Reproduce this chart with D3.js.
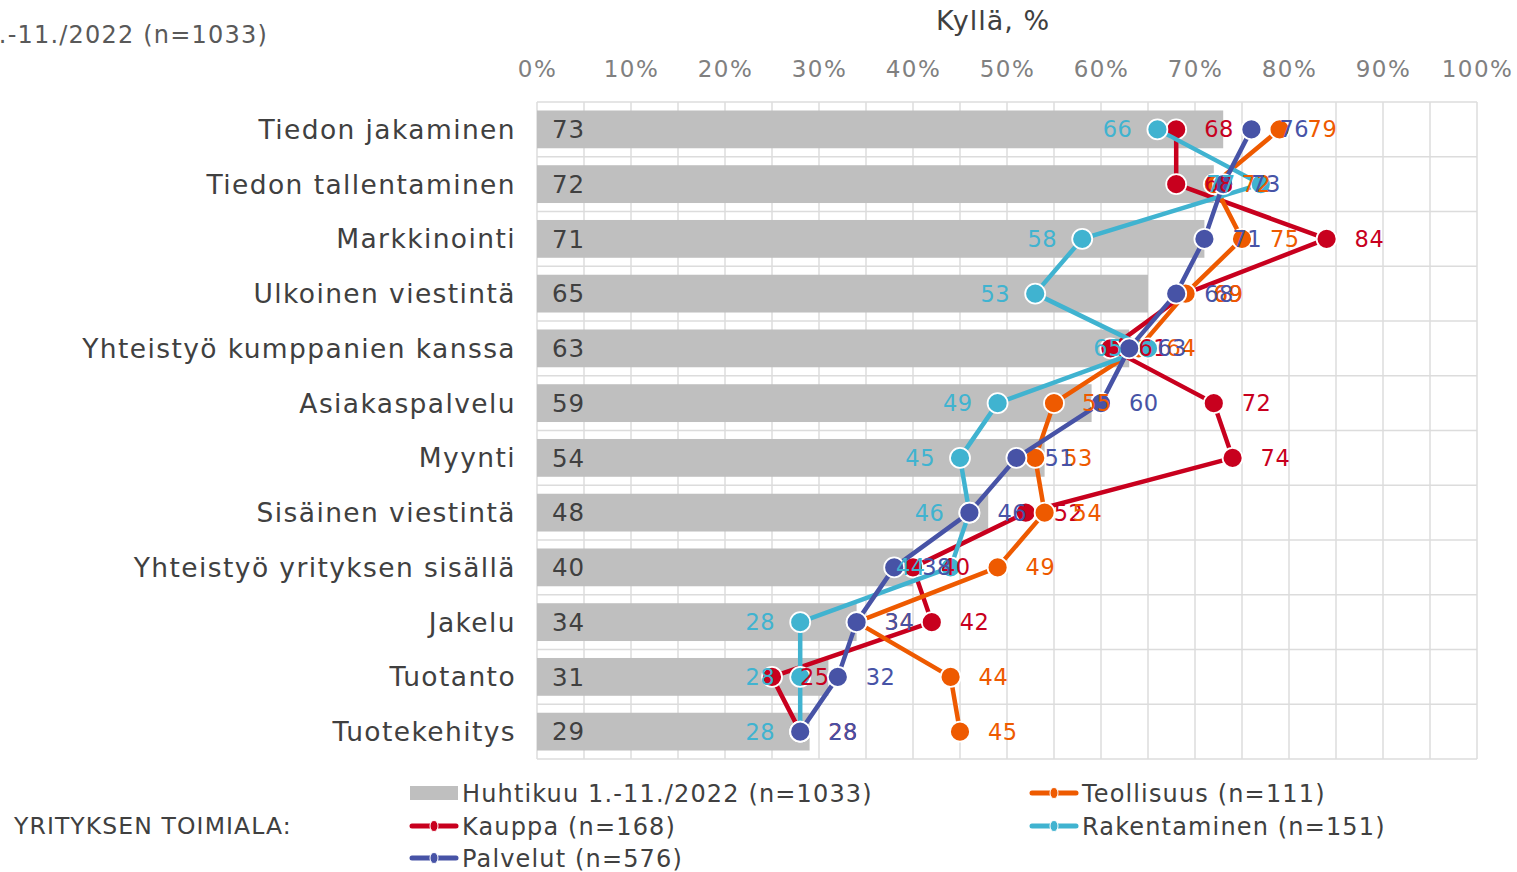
<!DOCTYPE html>
<html>
<head>
<meta charset="utf-8">
<script src="https://cdn.jsdelivr.net/npm/d3@7"></script>
<style>
  body { margin: 0; background: #fff; overflow: hidden; }
  svg { font-family: "DejaVu Sans", Verdana, sans-serif; }
</style>
</head>
<body>
<svg id="chart" width="1517" height="872"></svg>
<script>
// categories (rows, top to bottom)
var categories = ["Tiedon jakaminen", "Tiedon tallentaminen", "Markkinointi", "Ulkoinen viestintä",
  "Yhteistyö kumppanien kanssa", "Asiakaspalvelu", "Myynti", "Sisäinen viestintä",
  "Yhteistyö yrityksen sisällä", "Jakelu", "Tuotanto", "Tuotekehitys"];

// bar series: all respondents
var huhtikuu = [73, 72, 71, 65, 63, 59, 54, 48, 40, 34, 31, 29];

// line series by industry
var teollisuus   = [79, 72, 75, 69, 64, 55, 53, 54, 49, 34, 44, 45];
var kauppa       = [68, 68, 84, 69, 61, 72, 74, 52, 40, 42, 25, 28];
var rakentaminen = [66, 77, 58, 53, 65, 49, 45, 46, 44, 28, 28, 28];
var palvelut     = [76, 73, 71, 68, 63, 60, 51, 46, 38, 34, 32, 28];

var tickValues = [0, 10, 20, 30, 40, 50, 60, 70, 80, 90, 100];

var barLabel = "Huhtikuu 1.-11./2022 (n=1033)";
var lineSeries = [
  { name: "Kauppa (n=168)", values: kauppa, color: "#c8001e", side: "right" },
  { name: "Teollisuus (n=111)", values: teollisuus, color: "#ee5a00", side: "right" },
  { name: "Rakentaminen (n=151)", values: rakentaminen, color: "#40b3d0", side: "left" },
  { name: "Palvelut (n=576)", values: palvelut, color: "#4753a6", side: "right" }
];

var svg = d3.select("#chart");
var textColor = "#404040";

var x = d3.scaleLinear().domain([0, 100]).range([537, 1477]);
var y = d3.scaleBand().domain(categories).range([102, 759]);
var step = y.step();
var barH = step * 0.69;
function cy(c) { return y(c) + step / 2; }

// gridlines
var grid = svg.append("g");
grid.selectAll(".vg")
  .data(d3.range(0, 101, 5))
  .enter().append("line")
  .attr("x1", d => x(d)).attr("x2", d => x(d))
  .attr("y1", 102).attr("y2", 759)
  .attr("stroke", "#dcdcdc").attr("stroke-width", 1.5);
grid.selectAll(".hg")
  .data(d3.range(categories.length + 1))
  .enter().append("line")
  .attr("x1", x(0)).attr("x2", x(100))
  .attr("y1", d => 102 + d * step).attr("y2", d => 102 + d * step)
  .attr("stroke", "#dcdcdc").attr("stroke-width", 1.5);

// top axis
var axis = d3.axisTop(x).tickValues(tickValues).tickSize(0).tickPadding(0).tickFormat(d => d + "%");
var ag = svg.append("g").attr("transform", "translate(0,77)").call(axis);
ag.select(".domain").remove();
ag.selectAll("text")
  .attr("fill", "#808080")
  .style("font-size", "23px")
  .style("letter-spacing", "1.5px")
  .style("font-family", "DejaVu Sans, sans-serif");

// title
svg.append("text")
  .attr("x", 993).attr("y", 30)
  .attr("text-anchor", "middle")
  .attr("fill", textColor)
  .style("font-size", "27px")
  .style("letter-spacing", "1px")
  .text("Kyllä, %");

// cut off label at top left
svg.append("text")
  .attr("x", 268).attr("y", 43)
  .attr("text-anchor", "end")
  .attr("fill", "#595959")
  .style("font-size", "24px")
  .style("letter-spacing", "1.2px")
  .text(barLabel);

// category labels
svg.selectAll(".cat")
  .data(categories)
  .enter().append("text")
  .attr("x", 516).attr("y", d => cy(d))
  .attr("dy", "0.36em")
  .attr("text-anchor", "end")
  .attr("fill", textColor)
  .style("font-size", "26.5px")
  .style("letter-spacing", "1.4px")
  .text(d => d);

// bars
svg.selectAll(".bar")
  .data(huhtikuu)
  .enter().append("rect")
  .attr("x", x(0))
  .attr("y", (d, i) => cy(categories[i]) - barH / 2)
  .attr("width", d => x(d) - x(0))
  .attr("height", barH)
  .attr("fill", "#bfbfbf");

svg.selectAll(".barval")
  .data(huhtikuu)
  .enter().append("text")
  .attr("x", x(0) + 15)
  .attr("y", (d, i) => cy(categories[i]))
  .attr("dy", "0.36em")
  .attr("fill", textColor)
  .style("font-size", "24.5px")
  .style("letter-spacing", "0.8px")
  .text(d => d);

// lines and markers
var line = d3.line()
  .x(d => x(d.v))
  .y(d => cy(d.c));

lineSeries.forEach(function(s) {
  var pts = s.values.map((v, i) => ({ v: v, c: categories[i] }));
  svg.append("path")
    .datum(pts)
    .attr("d", line)
    .attr("fill", "none")
    .attr("stroke", s.color)
    .attr("stroke-width", 4.5)
    .attr("stroke-linejoin", "round");
  svg.selectAll(null)
    .data(pts)
    .enter().append("circle")
    .attr("cx", d => x(d.v))
    .attr("cy", d => cy(d.c))
    .attr("r", 10)
    .attr("fill", s.color)
    .attr("stroke", "#fff")
    .attr("stroke-width", 1.8);
});

// data labels on top
lineSeries.forEach(function(s) {
  svg.selectAll(null)
    .data(s.values)
    .enter().append("text")
    .attr("x", (d) => s.side == "left" ? x(d) - 25 : x(d) + 28)
    .attr("y", (d, i) => cy(categories[i]))
    .attr("dy", "0.36em")
    .attr("text-anchor", s.side == "left" ? "end" : "start")
    .attr("fill", s.color)
    .style("font-size", "22.5px")
    .style("letter-spacing", "0.5px")
    .text(d => d);
});

// legend
svg.append("text")
  .attr("x", 14).attr("y", 826)
  .attr("dy", "0.36em")
  .attr("fill", textColor)
  .style("font-size", "23.5px")
  .style("letter-spacing", "1.1px")
  .text("YRITYKSEN TOIMIALA:");

var legendItems = [
  { name: barLabel, color: "#bfbfbf", type: "bar", lx: 410, ly: 793 },
  { name: lineSeries[1].name, color: lineSeries[1].color, type: "line", lx: 1030, ly: 793 },
  { name: lineSeries[0].name, color: lineSeries[0].color, type: "line", lx: 410, ly: 826 },
  { name: lineSeries[2].name, color: lineSeries[2].color, type: "line", lx: 1030, ly: 826 },
  { name: lineSeries[3].name, color: lineSeries[3].color, type: "line", lx: 410, ly: 858 }
];

var lg = svg.selectAll(".leg")
  .data(legendItems)
  .enter().append("g")
  .attr("transform", d => "translate(" + d.lx + "," + d.ly + ")");

lg.filter(d => d.type == "bar").append("rect")
  .attr("x", 0).attr("y", -7).attr("width", 48).attr("height", 14)
  .attr("fill", d => d.color);
lg.filter(d => d.type == "line").append("line")
  .attr("x1", 2).attr("x2", 46).attr("y1", 0).attr("y2", 0)
  .attr("stroke", d => d.color).attr("stroke-width", 5).attr("stroke-linecap", "round");
lg.filter(d => d.type == "line").append("ellipse")
  .attr("cx", 24).attr("cy", 0).attr("rx", 4).attr("ry", 5.5)
  .attr("fill", d => d.color).attr("stroke", "#fff").attr("stroke-width", 1);
lg.append("text")
  .attr("x", 52).attr("y", 0)
  .attr("dy", "0.36em")
  .attr("fill", textColor)
  .style("font-size", "24px")
  .style("letter-spacing", "1.15px")
  .text(d => d.name);
</script>
</body>
</html>
